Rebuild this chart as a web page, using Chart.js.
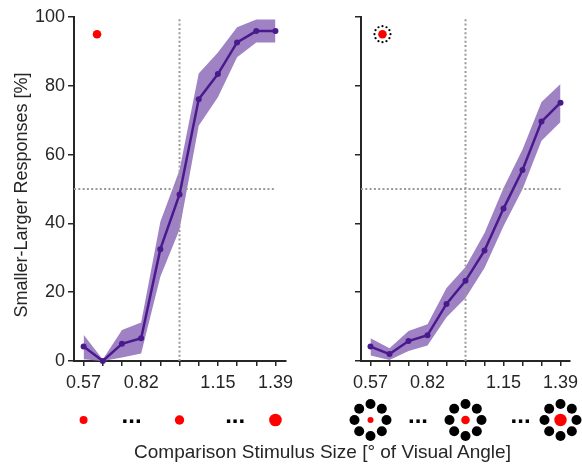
<html>
<head>
  <meta charset="UTF-8">
  <script src="https://cdn.jsdelivr.net/npm/chart.js@4.4.1/dist/chart.umd.min.js"></script>
  <style>
    body {padding: 0; margin: 0; background: #fff;}
    #wrap {position: relative; width: 582px; height: 470px; font-family: 'Liberation Sans', Arial, sans-serif; color: #262626;}
    canvas {position: absolute; top: 0;}
    #leftChart {left: 0;}
    #rightChart {left: 291px;}
    #ytitle {position: absolute; left: -129.5px; top: 186px; width: 300px; height: 18px; line-height: 18px; font-size: 18px; text-align: center; transform: rotate(-90deg); white-space: nowrap;}
    #xtitle {position: absolute; left: 72.5px; top: 442px; width: 500px; line-height: 19px; font-size: 19px; text-align: center; white-space: nowrap;}
  </style>
</head>

<body>
<div id="wrap">
  <canvas id="leftChart" width="300" height="470"></canvas>
  <canvas id="rightChart" width="291" height="470"></canvas>
  <div id="ytitle">Smaller-Larger Responses [%]</div>
  <div id="xtitle">Comparison Stimulus Size [° of Visual Angle]</div>
</div>

<script>
// comparison sizes (11 steps), only some are labelled
var sizeLabels = ['0.57', '', '', '0.82', '', '', '', '1.15', '', '', '1.39'];

// left panel: single dot
var leftMean  = [4.2, 0, 5.0, 6.6, 32.5, 48.4, 76.1, 83.4, 92.6, 95.9, 95.9];
var leftUpper = [7.6, 0.4, 9.0, 11.2, 40.5, 55.5, 83.6, 89.7, 97.0, 99.3, 99.3];
var leftLower = [0.5, 0, 1.0, 2.2, 24.5, 38.2, 68.4, 76.7, 88.3, 92.6, 92.6];

// right panel: dot with surround
var rightMean  = [4.2, 2.0, 5.8, 7.5, 16.6, 23.3, 32.1, 44.3, 55.5, 69.6, 75.1];
var rightUpper = [6.6, 3.7, 8.7, 10.7, 21.2, 27.3, 37.2, 50.3, 61.5, 75.3, 80.5];
var rightLower = [1.6, 0.3, 2.9, 4.5, 12.7, 18.3, 27.0, 39.2, 49.9, 64.0, 69.5];

var chance = 50;          // horizontal reference
var standardIdx = 5;      // standard stimulus (vertical reference)
var insetX = [0.7, 0.63]; // legend dot position per panel
var insetY = 95;

var iconAt = [0, 5, 10];
var ellipsisAt = [2.5, 7.9];

var FONT = "'Liberation Sans', Arial, sans-serif";
var INK = '#262626';
var LINE = '#4A1A8C';
var BAND = '#9F82C4';
var REF = '#9a9a9a';

var stimulusIcons = {
  id: 'stimulusIcons',
  afterDraw: function(chart, args, o) {
    var ctx = chart.ctx;
    var xs = chart.scales.x;
    var base = chart.chartArea.bottom + 59;
    ctx.save();
    // ring round the inset dot
    if (o.surround) {
      var p = chart.getDatasetMeta(5).data[0];
      ctx.fillStyle = '#000';
      for (var k = 0; k < 12; k++) {
        var a = k * Math.PI / 6;
        ctx.beginPath();
        ctx.arc(p.x + 8 * Math.cos(a), p.y + 8 * Math.sin(a), 1.1, 0, 2 * Math.PI);
        ctx.fill();
      }
    }
    iconAt.forEach(function(v, i) {
      var cx = xs.getPixelForValue(v);
      if (o.surround) {
        ctx.fillStyle = '#000';
        for (var k = 0; k < 8; k++) {
          var a = k * Math.PI / 4;
          ctx.beginPath();
          ctx.arc(cx + 16 * Math.cos(a), base + 16 * Math.sin(a), 5, 0, 2 * Math.PI);
          ctx.fill();
        }
      }
      ctx.fillStyle = '#ff0000';
      ctx.beginPath();
      ctx.arc(cx, base, o.radii[i], 0, 2 * Math.PI);
      ctx.fill();
    });
    ctx.fillStyle = '#000';
    ctx.font = 'bold 24px ' + FONT;
    ctx.textAlign = 'center';
    ctx.textBaseline = 'alphabetic';
    ellipsisAt.forEach(function(v) {
      ctx.fillText('...', xs.getPixelForValue(v), base + 2.5);
    });
    ctx.restore();
  }
};

function pts(arr) {
  return arr.map(function(v, i) { return {x: i, y: v}; });
}

function makeChart(id, mean, upper, lower, side) {
  var left = side === 'left';
  var ctx = document.getElementById(id).getContext('2d');
  return new Chart(ctx, {
    type: 'line',
    data: {
      datasets: [{
        data: pts(mean), borderColor: LINE, borderWidth: 2.5,
        pointRadius: 3, pointBackgroundColor: LINE, pointBorderWidth: 0,
        clip: false, order: 0
      }, {
        data: pts(upper), borderWidth: 0, pointRadius: 0,
        backgroundColor: BAND, fill: '+1', order: 3
      }, {
        data: pts(lower), borderWidth: 0, pointRadius: 0, fill: false, order: 3
      }, {
        data: [{x: -0.5, y: chance}, {x: 10, y: chance}],
        borderColor: REF, borderWidth: 2, borderDash: [2, 2.3], pointRadius: 0, order: 1
      }, {
        data: [{x: standardIdx, y: 0}, {x: standardIdx, y: 100}],
        borderColor: REF, borderWidth: 2, borderDash: [2, 2.3], pointRadius: 0, order: 1
      }, {
        data: [{x: insetX[left ? 0 : 1], y: insetY}], showLine: false,
        pointRadius: 4.3, pointBackgroundColor: '#ff0000', pointBorderWidth: 0, order: 0
      }]
    },
    options: {
      responsive: false,
      animation: false,
      layout: {padding: {top: 17, right: left ? 14 : 12, left: 0, bottom: 0}},
      plugins: {
        legend: {display: false},
        tooltip: {enabled: false},
        stimulusIcons: {surround: !left, radii: left ? [4, 4.7, 6.3] : [3, 4.3, 6.2]}
      },
      scales: {
        x: {
          type: 'linear', min: -0.5, max: left ? 10.55 : 10.5,
          afterBuildTicks: function(s) {
            s.ticks = sizeLabels.map(function(_, i) { return {value: i}; });
          },
          afterFit: function(s) {
            s.height = 109;
            s.paddingLeft = 0;
            s.paddingRight = 0;
          },
          ticks: {
            callback: function(v) { return sizeLabels[v] || ''; },
            font: {size: 18, family: FONT}, color: INK, padding: 6,
            maxRotation: 0, autoSkip: false
          },
          grid: {drawOnChartArea: false, tickLength: 5, color: INK, lineWidth: 1.5},
          border: {color: INK, width: 2}
        },
        y: {
          min: 0, max: 100,
          afterFit: function(s) {
            s.width = left ? 74 : 70;
            s.paddingTop = 0;
            s.paddingBottom = 0;
          },
          ticks: {
            stepSize: 20,
            callback: function(v) { return left ? v : ''; },
            font: {size: 18, family: FONT}, color: INK, padding: 3
          },
          grid: {drawOnChartArea: false, tickLength: 6, color: INK, lineWidth: 1.5},
          border: {color: INK, width: 2}
        }
      }
    },
    plugins: [stimulusIcons]
  });
}

makeChart('leftChart', leftMean, leftUpper, leftLower, 'left');
makeChart('rightChart', rightMean, rightUpper, rightLower, 'right');
</script>
</body>
</html>
